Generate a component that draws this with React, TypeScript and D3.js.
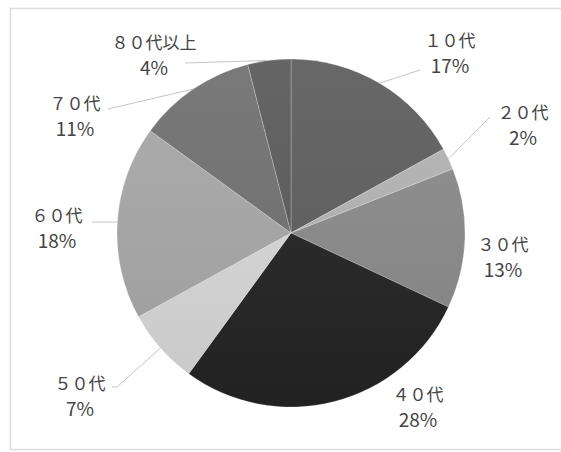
import React from "react";
import * as d3 from "d3";

const categories = ["１０代", "２０代", "３０代", "４０代", "５０代", "６０代", "７０代", "８０代以上"];
const values = [17, 2, 13, 28, 7, 18, 11, 4];
const percentLabels = ["17%", "2%", "13%", "28%", "7%", "18%", "11%", "4%"];
const sliceColors = ["#5e5e5e", "#b4b4b4", "#8b8b8b", "#242424", "#d9d9d9", "#a8a8a8", "#717171", "#5b5b5b"];

// label layout (center of label block), per category
const labelPos: [number, number][] = [
  [450, 41], [523, 113], [503, 245], [418, 395], [80, 384], [57, 216], [75, 104], [154, 43],
];
// leader line end points near labels (null = no leader)
const leaderEnds: ([number, number][] | null)[] = [
  [[420, 70]],
  [[490, 117]],
  null,
  null,
  [[117, 387], [112, 387]],
  [[92, 222]],
  [[108, 109]],
  [[185, 63]],
];

const W = 561, H = 452;
const cx = 291, cy = 233, R = 174;

export default function App() {
  const pie = d3.pie<number>().sort(null).value((d) => d);
  const arcs = pie(values);
  const arc = d3.arc<d3.PieArcDatum<number>>().innerRadius(0).outerRadius(R);
  const font = "'Noto Sans CJK JP', 'Noto Sans', sans-serif";
  return (
    <svg width={W} height={H} style={{ position: "absolute", left: 0, top: 0 }}>
      <rect x={0} y={0} width={W} height={H} fill="#fff" />
      <rect x={10.5} y={8.5} width={W} height={441} fill="none" stroke="#dcdcdc" strokeWidth={1.5} />
      <defs>
        <linearGradient id="shade" x1="0" y1="0" x2="0" y2="1">
          <stop offset="0" stopColor="#fff" stopOpacity={0.06} />
          <stop offset="1" stopColor="#000" stopOpacity={0.08} />
        </linearGradient>
      </defs>
      <g transform={`translate(${cx},${cy})`}>
        {arcs.map((a, i) => (
          <path key={i} d={arc(a) || ""} fill={sliceColors[i]} stroke="rgba(255,255,255,0.25)" strokeWidth={1} />
        ))}
        <circle r={R} fill="url(#shade)" />
      </g>
      {arcs.map((a, i) => {
        const ends = leaderEnds[i];
        if (!ends) return null;
        const mid = (a.startAngle + a.endAngle) / 2;
        const sx = cx + Math.sin(mid) * R;
        const sy = cy - Math.cos(mid) * R;
        const pts: [number, number][] = [[sx, sy], ...ends];
        return (
          <path key={"l" + i} d={d3.line()(pts) || ""} fill="none" stroke="#c4c4c4" strokeWidth={1} />
        );
      })}
      {categories.map((c, i) => (
        <g key={"t" + i} fontFamily={font} fill="#444" textAnchor="middle">
          <text x={labelPos[i][0]} y={labelPos[i][1]} dy="0.35em" fontSize={17}>{c}</text>
          <text x={labelPos[i][0]} y={labelPos[i][1] + 25} dy="0.35em" fontSize={19}>{percentLabels[i]}</text>
        </g>
      ))}
    </svg>
  );
}
